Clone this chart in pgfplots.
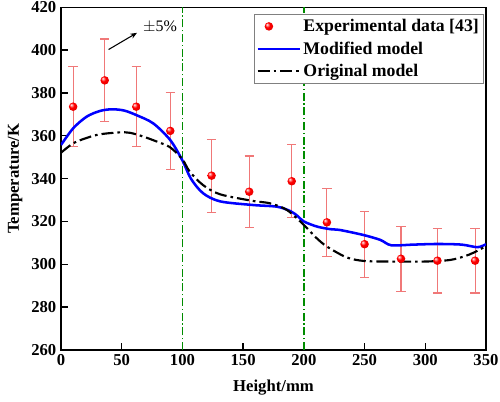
\documentclass[border=0pt]{standalone}
\usepackage{fontspec}
\setmainfont{Liberation Serif}
\usepackage{pgfplots}
\pgfplotsset{compat=1.18}
\usetikzlibrary{arrows.meta}
\definecolor{errc}{RGB}{240,120,120}
\definecolor{modblue}{RGB}{0,0,255}
\definecolor{gline}{RGB}{0,140,0}
\pgfdeclareradialshading{redball}{\pgfpoint{-12bp}{12bp}}{color(0bp)=(white); color(6bp)=(red!45!white); color(14bp)=(red); color(32bp)=(red!88!black); color(50bp)=(red!65!black)}
\pgfdeclareplotmark{myball}{\pgfpathcircle{\pgfpointorigin}{\pgfplotmarksize}\pgfshadepath{redball}{0}\pgfusepath{}}
\pgfplotsset{longline/.style={legend image code/.code={\draw[##1] (0pt,0pt) -- (31.5pt,0pt);}}}
\newcommand{\tl}[1]{\textbf{\fontsize{12.5}{13}\selectfont #1}}
\begin{document}
\begin{tikzpicture}
\useasboundingbox (-45.75pt,-39pt) rectangle (329.25pt,262.5pt);
\begin{axis}[
 scale only axis, width=318.75pt, height=257pt,
 xmin=0, xmax=350, ymin=260, ymax=420,
 xtick={0,50,...,350}, ytick={260,280,...,420},
 xticklabels={\tl{0},\tl{50},\tl{100},\tl{150},\tl{200},\tl{250},\tl{300},\tl{350}},
 yticklabels={\tl{260},\tl{280},\tl{300},\tl{320},\tl{340},\tl{360},\tl{380},\tl{400},\tl{420}},
 tick align=inside, xtick pos=bottom, ytick pos=left,
 major tick length=5pt,
 every tick/.style={black, line width=1pt},
 axis line style={line width=1.2pt},
 xlabel={Height/mm}, ylabel={Temperature/K},
 label style={font=\bfseries\fontsize{12.5}{14}\selectfont},
 xlabel style={at={(axis description cs:0.5,-0.111)}, anchor=center},
 ylabel style={at={(axis description cs:-0.108,0.5)}, anchor=center},
 legend style={at={(axis description cs:0.995,0.98)}, anchor=north east,
   draw=gray, line width=0.6pt, font=\bfseries\fontsize{13.3}{14}\selectfont,
   inner sep=1.5pt, row sep=2pt},
 legend cell align=left,
]
\addplot[gline, line width=1pt, dash pattern=on 6pt off 2pt on 1pt off 2pt, forget plot] coordinates {(100,260) (100,420)};
\addplot[gline, line width=1pt, dash pattern=on 6pt off 2pt on 1pt off 2pt, forget plot] coordinates {(200,260) (200,420)};

\addplot[only marks, mark=myball, mark size=3.2pt,
  error bars/.cd, y dir=both, y fixed relative=0.05,
  error bar style={errc, line width=0.8pt},
  error mark options={errc, rotate=90, mark size=3.5pt, line width=0.8pt}]
coordinates {
(10,373.6) (36,385.9) (62,373.6) (90,362.3) (124,341.4) (155,333.9)
(190,338.8) (219,319.6) (250,309.4) (280,302.6) (310,301.7) (341,301.7)
};
\addlegendentry{Experimental data [43]}

\addplot[modblue, line width=1.9pt, smooth, tension=0.5, longline]
coordinates {
(0,355.7) (10,363.5) (21,368.9) (32,371.6) (42,372.4) (52,371.8) (62,369.7)
(76,365.8) (90,358) (100,348.5) (107,340) (117,333.2) (131,329.4) (158,327.7)
(178,326.9) (189,324.8) (195,322.5) (200,320) (211,317.6) (222,316.4) (230,316)
(249,313.7) (263,311.4) (272,308.9) (290,309.2) (310,309.5) (330,309.2) (343,308) (350,309.4)
};
\addlegendentry{Modified model}

\addplot[black, line width=1.6pt, smooth, tension=0.5, dash pattern=on 9pt off 3pt on 2pt off 3pt, longline]
coordinates {
(0,352.1) (10,356.5) (21,359) (32,360.7) (48,361.6) (57,361.4) (68,359.6) (79,357.3)
(90,354.6) (100,349) (106,343.3) (117,337) (131,332.7) (158,329.6) (172,328.5)
(186,325.4) (200,318.4) (210,312.5) (219,308.3) (235,303.3) (249,301.6) (270,301.3)
(300,301.3) (320,302) (332,303.7) (340,305.5) (350,308.5)
};
\addlegendentry{Original model}

\draw[-{Stealth[length=5pt,width=4pt]}, line width=0.8pt] (axis cs:39.2,400.3) -- (axis cs:62.6,408.1);
\node[font=\fontsize{12}{13}\selectfont] at (axis cs:81.6,410.9) {$\pm$5\%};
\end{axis}
\end{tikzpicture}
\end{document}
